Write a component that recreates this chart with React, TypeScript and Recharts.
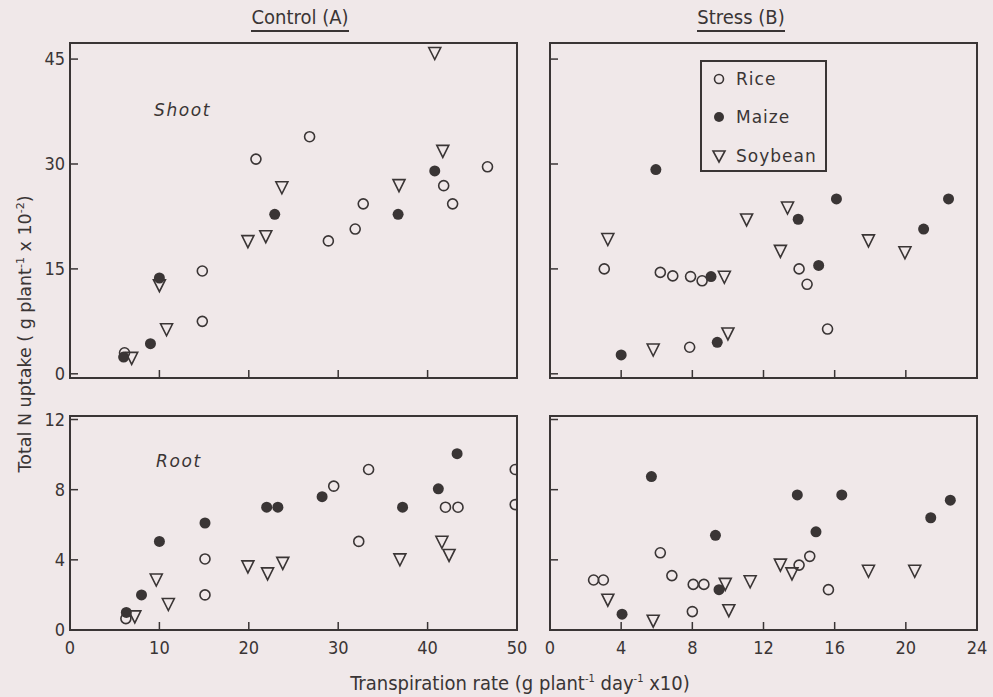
import React from "react";
import { ScatterChart, Scatter, XAxis, YAxis, ReferenceArea } from "recharts";

type Pt = [number, number];

// Control (A), shoot
const ctrlShootRice: Pt[] = [[6.1, 3.0], [14.8, 14.7], [14.8, 7.5], [20.8, 30.7], [26.8, 33.9], [28.9, 19.0], [31.9, 20.7], [32.8, 24.3], [41.8, 26.9], [42.8, 24.3], [46.7, 29.6]];
const ctrlShootMaize: Pt[] = [[6.0, 2.4], [9.0, 4.3], [10.0, 13.7], [22.9, 22.8], [36.7, 22.8], [40.8, 29.0]];
const ctrlShootSoybean: Pt[] = [[6.9, 2.2], [10.0, 12.6], [10.8, 6.3], [19.9, 18.9], [21.9, 19.6], [23.7, 26.6], [36.8, 26.9], [40.8, 45.8], [41.7, 31.8]];

// Stress (B), shoot
const stressShootRice: Pt[] = [[3.05, 15.0], [6.2, 14.5], [6.9, 14.0], [7.9, 13.9], [8.55, 13.3], [14.0, 15.0], [14.45, 12.8], [15.6, 6.4], [7.85, 3.8]];
const stressShootMaize: Pt[] = [[5.95, 29.2], [4.0, 2.7], [9.05, 13.9], [9.4, 4.5], [13.95, 22.1], [15.1, 15.5], [16.1, 25.0], [21.0, 20.7], [22.4, 25.0]];
const stressShootSoybean: Pt[] = [[3.25, 19.2], [5.8, 3.4], [9.8, 13.8], [10.0, 5.7], [11.05, 22.0], [12.95, 17.5], [13.35, 23.7], [17.9, 19.0], [19.95, 17.3]];

// Control (A), root
const ctrlRootRice: Pt[] = [[6.25, 0.65], [15.1, 2.0], [15.1, 4.05], [29.5, 8.2], [32.3, 5.05], [33.4, 9.15], [42.0, 7.0], [43.4, 7.0], [49.8, 9.15], [49.8, 7.15]];
const ctrlRootMaize: Pt[] = [[6.3, 1.0], [8.0, 2.0], [10.0, 5.05], [15.1, 6.1], [22.0, 7.0], [23.25, 7.0], [28.2, 7.6], [37.2, 7.0], [41.2, 8.05], [43.3, 10.05]];
const ctrlRootSoybean: Pt[] = [[7.25, 0.75], [9.65, 2.85], [11.0, 1.45], [19.9, 3.6], [22.1, 3.2], [23.8, 3.8], [36.9, 4.0], [41.6, 5.0], [42.4, 4.25]];

// Stress (B), root
const stressRootRice: Pt[] = [[2.45, 2.85], [3.0, 2.85], [6.2, 4.4], [6.85, 3.1], [8.05, 2.6], [8.65, 2.6], [8.0, 1.05], [14.0, 3.7], [14.6, 4.2], [15.65, 2.3]];
const stressRootMaize: Pt[] = [[4.05, 0.9], [5.7, 8.75], [9.3, 5.4], [9.5, 2.3], [13.9, 7.7], [14.95, 5.6], [16.4, 7.7], [21.4, 6.4], [22.5, 7.4]];
const stressRootSoybean: Pt[] = [[3.25, 1.7], [5.8, 0.5], [9.85, 2.6], [10.05, 1.1], [11.25, 2.75], [12.95, 3.7], [13.6, 3.2], [17.9, 3.35], [20.5, 3.35]];

const ctrlXTicks = [0, 10, 20, 30, 40, 50];
const stressXTicks = [0, 4, 8, 12, 16, 20, 24];
const shootYTicks = [0, 15, 30, 45];
const rootYTicks = [0, 4, 8, 12];

const INK = "#3a3535";
const BG = "#f0e8e9";
const NARROW = "'Liberation Sans Narrow', 'DejaVu Sans Condensed', sans-serif";
const WIDE = "'DejaVu Sans', sans-serif";

const toObj = (pts: Pt[]) => pts.map(([x, y]) => ({ x, y }));

const RiceDot = (p: any) => <circle cx={p.cx} cy={p.cy} r={5} fill="none" stroke={INK} strokeWidth={1.6} />;
const MaizeDot = (p: any) => <circle cx={p.cx} cy={p.cy} r={5.5} fill={INK} />;
const SoyDot = (p: any) => (
    <path d={`M${p.cx - 6},${p.cy - 6}L${p.cx + 6},${p.cy - 6}L${p.cx},${p.cy + 6}Z`} fill="none" stroke={INK} strokeWidth={1.6} strokeLinejoin="miter" />
);

interface IPanelProps {
    left: number,
    top: number,
    width: number,
    height: number,
    margin: { top: number, right: number, bottom: number, left: number },
    yAxisWidth: number,
    xAxisHeight: number,
    xDomain: [number, number],
    yDomain: [number, number],
    xTicks: number[],
    yTicks: number[],
    xLabels: boolean,
    yLabels: boolean,
    rice: Pt[],
    maize: Pt[],
    soybean: Pt[]
}

const Panel = (p: IPanelProps) => <div style={{ position: 'absolute', left: p.left, top: p.top }}>
    <ScatterChart width={p.width} height={p.height} margin={p.margin}>
        <XAxis type="number" dataKey="x" domain={p.xDomain} ticks={p.xTicks} interval={0} allowDataOverflow
            height={p.xAxisHeight} axisLine={false} tickSize={-8} tickMargin={19}
            tickLine={{ stroke: INK, strokeWidth: 1.5 }}
            tick={{ fill: INK, fontSize: 18, fontFamily: NARROW }}
            tickFormatter={(v: number) => p.xLabels ? String(v) : ''} />
        <YAxis type="number" dataKey="y" domain={p.yDomain} ticks={p.yTicks} interval={0} allowDataOverflow
            width={p.yAxisWidth} axisLine={false} tickSize={-8} tickMargin={13}
            tickLine={{ stroke: INK, strokeWidth: 1.5 }}
            tick={{ fill: INK, fontSize: 18, fontFamily: NARROW }}
            tickFormatter={(v: number) => p.yLabels ? String(v) : ''} />
        <ReferenceArea x1={p.xDomain[0]} x2={p.xDomain[1]} y1={p.yDomain[0]} y2={p.yDomain[1]}
            fill="none" fillOpacity={0} stroke={INK} strokeWidth={2} />
        <Scatter data={toObj(p.rice)} shape={RiceDot} isAnimationActive={false} />
        <Scatter data={toObj(p.maize)} shape={MaizeDot} isAnimationActive={false} />
        <Scatter data={toObj(p.soybean)} shape={SoyDot} isAnimationActive={false} />
    </ScatterChart>
</div>

const App = () => <div style={{ position: 'absolute', left: 0, top: 0, width: 993, height: 697, background: BG, overflow: 'hidden', color: INK }}>
    <Panel left={0} top={0} width={533} height={390} margin={{ top: 43, right: 16, bottom: 0, left: 30 }}
        yAxisWidth={40} xAxisHeight={12} xDomain={[0, 50]} yDomain={[-0.6, 47.3]} xTicks={ctrlXTicks} yTicks={shootYTicks}
        xLabels={false} yLabels={true} rice={ctrlShootRice} maize={ctrlShootMaize} soybean={ctrlShootSoybean} />
    <Panel left={533} top={0} width={460} height={390} margin={{ top: 43, right: 16, bottom: 0, left: 0 }}
        yAxisWidth={17} xAxisHeight={12} xDomain={[0, 24]} yDomain={[-0.6, 47.3]} xTicks={stressXTicks} yTicks={shootYTicks}
        xLabels={false} yLabels={false} rice={stressShootRice} maize={stressShootMaize} soybean={stressShootSoybean} />
    <Panel left={0} top={390} width={533} height={280} margin={{ top: 26, right: 16, bottom: 10, left: 30 }}
        yAxisWidth={40} xAxisHeight={30} xDomain={[0, 50]} yDomain={[0, 12.2]} xTicks={ctrlXTicks} yTicks={rootYTicks}
        xLabels={true} yLabels={true} rice={ctrlRootRice} maize={ctrlRootMaize} soybean={ctrlRootSoybean} />
    <Panel left={533} top={390} width={460} height={280} margin={{ top: 26, right: 16, bottom: 10, left: 0 }}
        yAxisWidth={17} xAxisHeight={30} xDomain={[0, 24]} yDomain={[0, 12.2]} xTicks={stressXTicks} yTicks={rootYTicks}
        xLabels={true} yLabels={false} rice={stressRootRice} maize={stressRootMaize} soybean={stressRootSoybean} />

    {/* panel titles */}
    <div style={{ position: 'absolute', left: 200, width: 200, top: 5, textAlign: 'center', fontFamily: NARROW, fontSize: 20 }}>
        <span style={{ borderBottom: `2px solid ${INK}`, paddingBottom: 1 }}>Control (A)</span>
    </div>
    <div style={{ position: 'absolute', left: 641, width: 200, top: 5, textAlign: 'center', fontFamily: NARROW, fontSize: 20 }}>
        <span style={{ borderBottom: `2px solid ${INK}`, paddingBottom: 1 }}>Stress (B)</span>
    </div>

    {/* in-panel labels */}
    <div style={{ position: 'absolute', left: 154, top: 100, fontFamily: WIDE, fontStyle: 'italic', fontSize: 17, letterSpacing: 1.6 }}>Shoot</div>
    <div style={{ position: 'absolute', left: 156, top: 451, fontFamily: WIDE, fontStyle: 'italic', fontSize: 17, letterSpacing: 1.6 }}>Root</div>

    {/* legend */}
    <div style={{ position: 'absolute', left: 700, top: 60, width: 127, height: 112, boxSizing: 'border-box', border: `2px solid ${INK}`, fontFamily: WIDE, fontSize: 17, letterSpacing: 1 }}>
        {[['Rice', 17], ['Maize', 55], ['Soybean', 94]].map(([name, y]) => <div key={name as string} style={{ position: 'absolute', left: 0, top: (y as number) - 12, height: 24, width: 125 }}>
            <svg width={30} height={24} style={{ position: 'absolute', left: 3, top: 0 }}>
                {name === 'Rice' && <circle cx={14} cy={12} r={4.5} fill="none" stroke={INK} strokeWidth={1.6} />}
                {name === 'Maize' && <circle cx={14} cy={12} r={5} fill={INK} />}
                {name === 'Soybean' && <path d="M8,7L20,7L14,18Z" fill="none" stroke={INK} strokeWidth={1.6} />}
            </svg>
            <span style={{ position: 'absolute', left: 34, top: 1, lineHeight: '22px' }}>{name}</span>
        </div>)}
    </div>

    {/* axis titles */}
    <div style={{ position: 'absolute', left: 220, width: 600, top: 671, textAlign: 'center', fontFamily: NARROW, fontSize: 20 }}>
        Transpiration rate (g plant<sup style={{ fontSize: 11 }}>-1</sup> day<sup style={{ fontSize: 11 }}>-1</sup> x10)
    </div>
    <div style={{ position: 'absolute', left: 21 - 200, width: 400, top: 334 - 11, height: 22, lineHeight: '22px', textAlign: 'center', transform: 'rotate(-90deg)', fontFamily: WIDE, fontSize: 17.5 }}>
        Total N uptake ( g plant<sup style={{ fontSize: 11 }}>-1</sup> x 10<sup style={{ fontSize: 11 }}>-2</sup>)
    </div>
</div>

export default App
